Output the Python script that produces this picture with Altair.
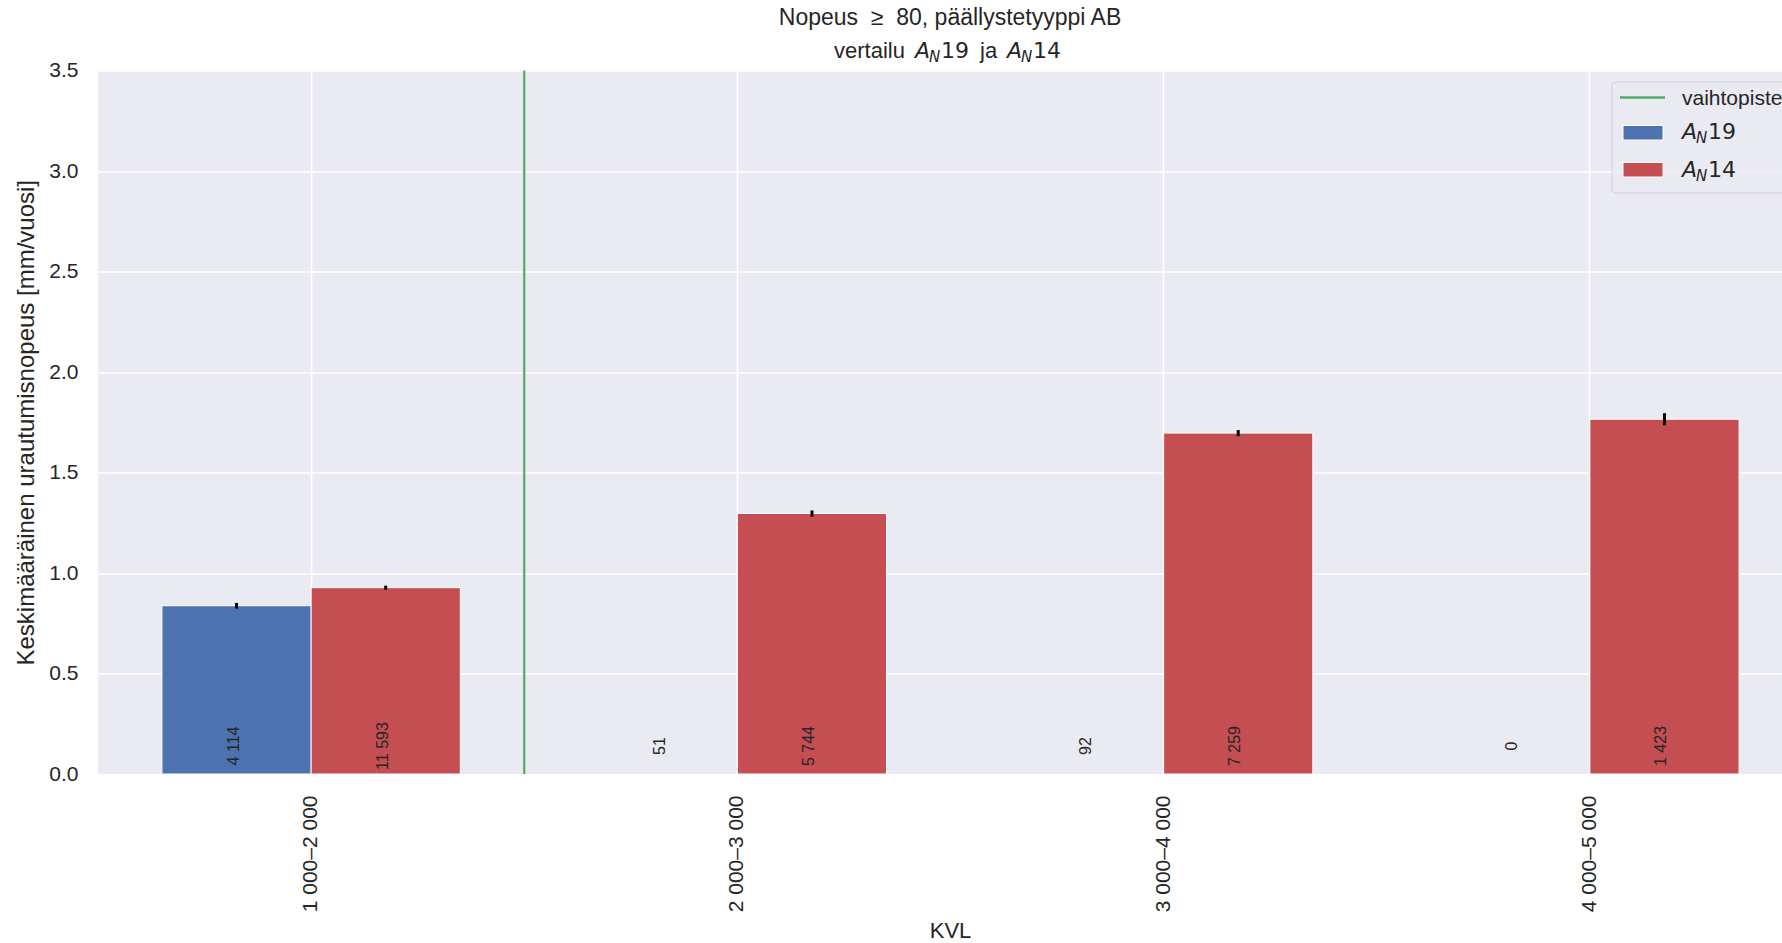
import altair as alt
import pandas as pd

# ---------------- data ----------------
categories = ["1 000–2 000", "2 000–3 000", "3 000–4 000", "4 000–5 000"]
series = ["A_N19", "A_N14"]
an19_values = [0.837, None, None, None]
an14_values = [0.927, 1.296, 1.696, 1.765]
an19_err = [0.014, None, None, None]
an14_err = [0.010, 0.015, 0.015, 0.030]
an19_counts = [4114, 51, 92, 0]
an14_counts = [11593, 5744, 7259, 1423]
switch_category = ["2 000–3 000"]
y_ticks = [0.0, 0.5, 1.0, 1.5, 2.0, 2.5, 3.0, 3.5]

BLUE, RED, GREEN = "#4C72B0", "#C44E52", "#55A868"
BG = "#EAEAF2"
TXT = "#262626"
FONT = "Liberation Sans"
MATH = "DejaVu Sans"

rows = []
for s, vals, errs, cnts in [("A_N19", an19_values, an19_err, an19_counts),
                            ("A_N14", an14_values, an14_err, an14_counts)]:
    for c, v, e, n in zip(categories, vals, errs, cnts):
        rows.append({
            "kvl": c, "series": s, "value": v,
            "lo": None if v is None else v - e,
            "hi": None if v is None else v + e,
            "label": f"{n:,}".replace(",", " "),
        })
df = pd.DataFrame(rows)

W, H = 1684, 703.5
xscale = alt.Scale(domain=categories, range=[0, 1705], paddingInner=0, paddingOuter=0)
xoff = alt.XOffset("series:N", scale=alt.Scale(domain=series, paddingInner=0, paddingOuter=0.4286))
yscale = alt.Scale(domain=[0, 3.5], nice=False)

x_axis = alt.Axis(labelAngle=270, labelFontSize=21, labelPadding=21, ticks=False, tickSize=0,
                  domain=False, grid=True, titleFontSize=22, titleFontWeight="normal",
                  titleX=852, titleY=156, titleBaseline="middle", labelColor=TXT, titleColor=TXT)
y_axis = alt.Axis(values=y_ticks, format=".1f", labelFontSize=21, labelPadding=20, ticks=False,
                  tickSize=0, domain=False, grid=True, titleFontSize=24, titleFontWeight="normal",
                  titlePadding=10, labelColor=TXT, titleColor=TXT)

X = alt.X("kvl:N", scale=xscale, axis=x_axis, title="KVL")
Y_TITLE = "Keskimääräinen urautumisnopeus [mm/vuosi]"

bars = alt.Chart(df).mark_bar(stroke="white", strokeWidth=1).encode(
    x=X, xOffset=xoff,
    y=alt.Y("value:Q", scale=yscale, axis=y_axis, title=Y_TITLE),
    color=alt.Color("series:N", scale=alt.Scale(domain=series, range=[BLUE, RED]), legend=None),
)

errs = alt.Chart(df).mark_rule(color="black", strokeWidth=3).encode(
    x=X, xOffset=xoff, y=alt.Y("lo:Q", scale=yscale, axis=y_axis, title=Y_TITLE), y2="hi:Q"
)

counts = alt.Chart(df).mark_text(angle=270, align="center", baseline="middle", dx=28, dy=-3,
                                 fontSize=16, color=TXT, font=FONT).encode(
    x=X, xOffset=xoff, y=alt.datum(0), text="label:N"
)

switch = alt.Chart(pd.DataFrame({"kvl": switch_category})).mark_rule(color=GREEN, strokeWidth=2.2).encode(
    x=alt.X("kvl:N", scale=xscale, axis=x_axis, title="KVL", bandPosition=0)
)

one = alt.Data(values=[{}])


def txt(s, x, y, size=21, font=FONT, style="normal", align="left", baseline="alphabetic"):
    return alt.Chart(one).mark_text(text=s, fontSize=size, font=font, fontStyle=style, align=align,
                                    baseline=baseline, color=TXT).encode(
        x=alt.value(x), y=alt.value(y))


def math_label(x, y, digits, size=22):
    return [
        txt("A", x, y, size=size, font=MATH, style="italic"),
        txt("N", x + 14, y + 4, size=15, font=MATH, style="italic"),
        txt(digits, x + 26, y, size=size, font=MATH),
    ]


NB = "\u00a0"
title_parts = [
    txt(f"Nopeus{NB}{NB}≥{NB}{NB}80, päällystetyyppi AB", 852, -45.5, size=23, align="center"),
    txt("vertailu", 736, -13, size=22),
    *math_label(817, -13, "19"),
    txt("ja", 882, -13, size=22),
    *math_label(909, -13, "14"),
]

legend_box = alt.Chart(one).mark_rect(fill=BG, opacity=0.8, stroke="#CCCCCC", strokeWidth=1,
                                      cornerRadius=4).encode(
    x=alt.value(1514), x2=alt.value(1770), y=alt.value(11.5), y2=alt.value(122.5))
legend_line = alt.Chart(one).mark_rule(color=GREEN, strokeWidth=2.5).encode(
    x=alt.value(1522), x2=alt.value(1567), y=alt.value(27))
legend_blue = alt.Chart(one).mark_rect(fill=BLUE, stroke="white", strokeWidth=1).encode(
    x=alt.value(1525), x2=alt.value(1565), y=alt.value(55), y2=alt.value(69.5))
legend_red = alt.Chart(one).mark_rect(fill=RED, stroke="white", strokeWidth=1).encode(
    x=alt.value(1525), x2=alt.value(1565), y=alt.value(92), y2=alt.value(106.5))
legend_parts = [
    legend_box, legend_line, legend_blue, legend_red,
    txt("vaihtopiste", 1584, 34.5),
    *math_label(1584, 68.5, "19"),
    *math_label(1584, 106, "14"),
]

chart = alt.layer(bars, errs, counts, switch, *title_parts, *legend_parts).properties(
    width=W, height=H,
    padding={"left": 98, "top": 70.5, "right": 0, "bottom": 169.5},
    autosize=alt.AutoSizeParams(type="none"),
    background="white",
).configure(font=FONT).configure_view(fill=BG, stroke=None).configure_axis(
    gridColor="white", gridWidth=1.6
)

chart.save("out.html", embed_options={"renderer": "svg", "actions": False})
